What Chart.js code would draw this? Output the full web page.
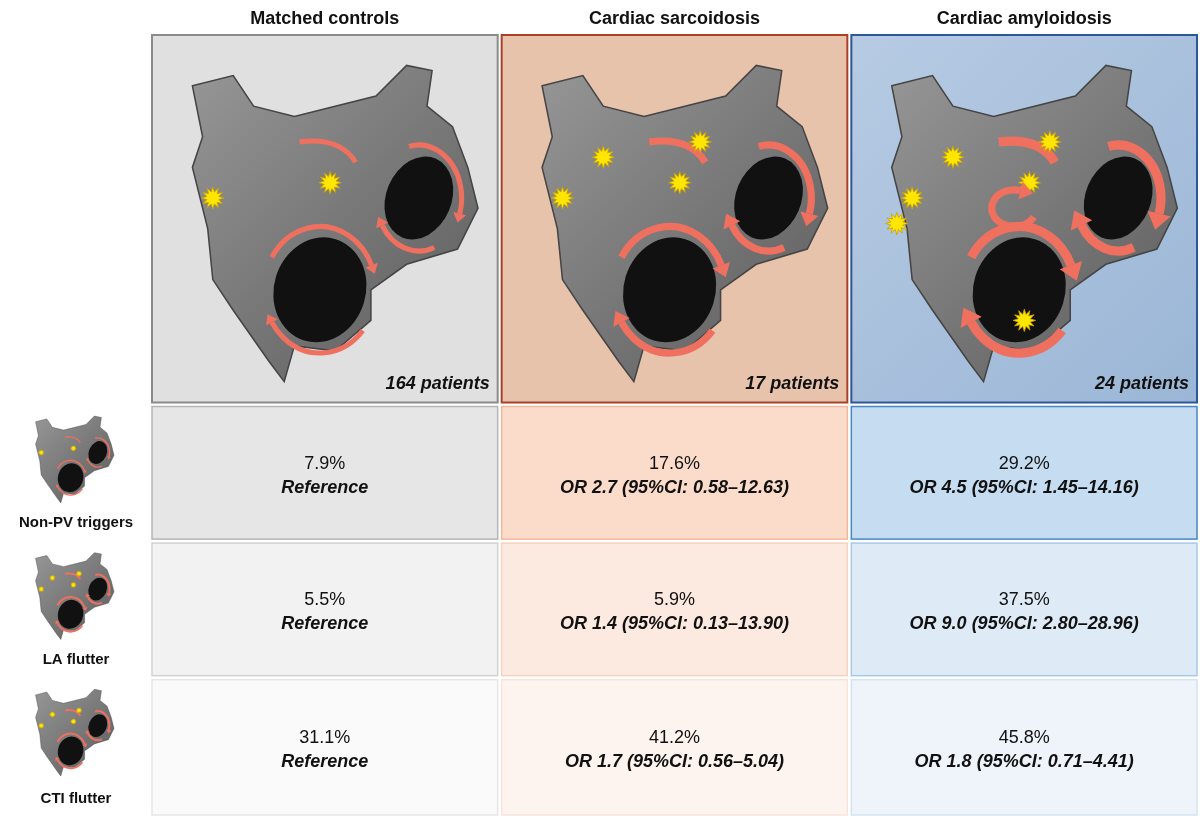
<!DOCTYPE html>
<html>
<head>
<meta charset="utf-8">
<script src="https://cdn.jsdelivr.net/npm/chart.js@4/dist/chart.umd.min.js"></script>
<style>
  body { margin: 0; background: #fff; }
  canvas { display: block; }
</style>
</head>
<body>
<canvas id="grid" width="1200" height="823"></canvas>
<script>
// Columnas y filas de la figura
const groups = ["Matched controls", "Cardiac sarcoidosis", "Cardiac amyloidosis"];
const rows = ["", "Non-PV triggers", "LA flutter", "CTI flutter"];
const rowHeights = [2.72, 1, 1, 1.02];
const patients = ["164 patients", "17 patients", "24 patients"];

const nonPv = ["7.9%", "17.6%", "29.2%"];
const laFlutter = ["5.5%", "5.9%", "37.5%"];
const ctiFlutter = ["31.1%", "41.2%", "45.8%"];
const nonPvOr = ["Reference", "OR 2.7 (95%CI: 0.58–12.63)", "OR 4.5 (95%CI: 1.45–14.16)"];
const laFlutterOr = ["Reference", "OR 1.4 (95%CI: 0.13–13.90)", "OR 9.0 (95%CI: 2.80–28.96)"];
const ctiFlutterOr = ["Reference", "OR 1.7 (95%CI: 0.56–5.04)", "OR 1.8 (95%CI: 0.71–4.41)"];

const fills = [
    ["#e0e0e0", "#e8c3ac", "#aac1dc"],
    ["#e6e6e6", "#fbdccb", "#c6dcf1"],
    ["#f2f2f2", "#fce9df", "#deebf7"],
    ["#fafafa", "#fdf4ef", "#eef4fa"]
];
const borders = [
    ["#8a8a8a", "#a8402a", "#2e5797"],
    ["#b5b5b5", "#f0b89d", "#4a86c4"],
    ["#d2d2d2", "#f6d2c0", "#a9c8e6"],
    ["#e6e6e6", "#f9e4da", "#d3e3f2"]
];

const pct = [null, nonPv, laFlutter, ctiFlutter];
const ors = [null, nonPvOr, laFlutterOr, ctiFlutterOr];

function star(ctx, x, y, r) {
    ctx.beginPath();
    for (let i = 0; i < 24; i++) {
        const a = i * Math.PI / 12;
        const rr = i % 2 ? r * 0.55 : r;
        ctx.lineTo(x + rr * Math.cos(a), y + rr * Math.sin(a));
    }
    ctx.closePath();
    ctx.fillStyle = "#ffe600";
    ctx.fill();
    ctx.strokeStyle = "#c9a000";
    ctx.lineWidth = 0.8;
    ctx.stroke();
}

function arcArrow(ctx, x, y, rx, ry, a0, a1, w) {
    ctx.save();
    ctx.strokeStyle = "#f07060";
    ctx.fillStyle = "#f07060";
    ctx.lineWidth = w;
    ctx.beginPath();
    ctx.ellipse(x, y, rx, ry, 0, a0, a1);
    ctx.stroke();
    const ex = x + rx * Math.cos(a1), ey = y + ry * Math.sin(a1);
    const tx = -rx * Math.sin(a1), ty = ry * Math.cos(a1);
    const len = Math.hypot(tx, ty);
    const ux = tx / len, uy = ty / len;
    ctx.beginPath();
    ctx.moveTo(ex + ux * w * 1.8, ey + uy * w * 1.8);
    ctx.lineTo(ex - uy * w * 1.3, ey + ux * w * 1.3);
    ctx.lineTo(ex + uy * w * 1.3, ey - ux * w * 1.3);
    ctx.closePath();
    ctx.fill();
    ctx.restore();
}

// Dibuja una aurícula esquemática (gris, venas negras, flechas y focos)
function drawAtrium(ctx, ox, oy, s, level) {
    ctx.save();
    ctx.translate(ox, oy);
    ctx.scale(s, s);
    const g = ctx.createLinearGradient(0, 0, 300, 300);
    g.addColorStop(0, "#9a9a9a");
    g.addColorStop(1, "#5e5e5e");
    ctx.fillStyle = g;
    ctx.strokeStyle = "#444";
    ctx.lineWidth = 1.5;
    ctx.beginPath();
    ctx.moveTo(20, 40); ctx.lineTo(60, 30); ctx.lineTo(80, 60); ctx.lineTo(120, 70);
    ctx.lineTo(200, 50); ctx.lineTo(230, 20); ctx.lineTo(255, 25); ctx.lineTo(250, 60);
    ctx.lineTo(275, 80); ctx.lineTo(290, 120); ctx.lineTo(300, 160); ctx.lineTo(280, 200);
    ctx.lineTo(230, 215); ctx.lineTo(195, 240); ctx.lineTo(195, 270); ctx.lineTo(160, 300);
    ctx.lineTo(120, 295); ctx.lineTo(110, 330); ctx.lineTo(95, 310); ctx.lineTo(60, 260);
    ctx.lineTo(40, 230); ctx.lineTo(35, 180); ctx.lineTo(20, 120); ctx.lineTo(30, 90);
    ctx.closePath();
    ctx.fill();
    ctx.stroke();
    ctx.fillStyle = "#111";
    ctx.beginPath(); ctx.ellipse(145, 240, 45, 52, 0.3, 0, Math.PI * 2); ctx.fill();
    ctx.beginPath(); ctx.ellipse(242, 150, 32, 42, 0.4, 0, Math.PI * 2); ctx.fill();
    const w = 5 + level * 2;
    arcArrow(ctx, 145, 240, 55, 62, -2.6, -0.4, w);
    arcArrow(ctx, 145, 240, 55, 62, 0.7, 2.6, w);
    arcArrow(ctx, 242, 150, 42, 52, -1.8, 0.3, w);
    arcArrow(ctx, 242, 150, 42, 52, 1.2, 2.6, w);
    ctx.save();
    ctx.strokeStyle = "#f07060"; ctx.lineWidth = w;
    ctx.beginPath(); ctx.moveTo(125, 95); ctx.quadraticCurveTo(165, 90, 180, 115); ctx.stroke();
    ctx.restore();
    const spots = [[40, 150], [155, 135], [175, 95], [80, 110], [150, 270], [25, 175], [100, 80], [200, 120]];
    for (let i = 0; i < 2 + level * 2 && i < spots.length; i++) star(ctx, spots[i][0], spots[i][1], 11);
    if (level === 2) arcArrow(ctx, 140, 160, 22, 18, 0.5, 5, 7);
    ctx.restore();
}

const cellsPlugin = {
    id: "cells",
    afterDatasetsDraw(chart) {
        const ctx = chart.ctx;
        ctx.save();
        chart.data.datasets.forEach((ds, r) => {
            chart.getDatasetMeta(r).data.forEach((bar, c) => {
                const left = bar.x - bar.width / 2 + 2, right = bar.x + bar.width / 2 - 2;
                const top = Math.min(bar.y, bar.base) + 2, bottom = Math.max(bar.y, bar.base) - 2;
                if (r === 0 && c === 2) {
                    const g = ctx.createLinearGradient(left, top, right, bottom);
                    g.addColorStop(0, "#b7cbe3"); g.addColorStop(1, "#9bb6d6");
                    ctx.fillStyle = g;
                } else {
                    ctx.fillStyle = fills[r][c];
                }
                ctx.fillRect(left, top, right - left, bottom - top);
                ctx.strokeStyle = borders[r][c];
                ctx.lineWidth = r === 0 ? 2 : 1.5;
                ctx.strokeRect(left, top, right - left, bottom - top);
                ctx.fillStyle = "#111";
                ctx.textAlign = "center";
                if (r === 0) {
                    drawAtrium(ctx, left + 20, top + 10, 1.02, c);
                    ctx.font = "italic bold 18px 'Liberation Sans', Arial";
                    ctx.textAlign = "right";
                    ctx.fillText(patients[c], right - 8, bottom - 14);
                    ctx.textAlign = "center";
                    ctx.font = "bold 18px 'Liberation Sans', Arial";
                    ctx.fillText(groups[c], bar.x, 24);
                } else {
                    const my = (top + bottom) / 2;
                    ctx.font = "18px 'Liberation Sans', Arial";
                    ctx.fillText(pct[r][c], bar.x, my - 4);
                    ctx.font = "italic bold 18px 'Liberation Sans', Arial";
                    ctx.fillText(ors[r][c], bar.x, my + 20);
                    if (c === 0) {
                        ctx.font = "bold 15px 'Liberation Sans', Arial";
                        ctx.fillText(rows[r], 76, bottom - 12);
                        ctx.save();
                        ctx.translate(30, top + 4);
                        ctx.scale(0.28, 0.28);
                        drawAtrium(ctx, 0, 0, 1, r === 1 ? 0 : 1);
                        ctx.restore();
                    }
                }
            });
        });
        ctx.restore();
    }
};

new Chart(document.getElementById("grid"), {
    type: "bar",
    data: {
        labels: groups,
        datasets: rows.map((name, r) => ({
            label: name || "Map",
            data: groups.map(() => rowHeights[r]),
            backgroundColor: "rgba(0,0,0,0)",
            borderWidth: 0,
            barPercentage: 1,
            categoryPercentage: 1
        }))
    },
    options: {
        responsive: false,
        animation: false,
        layout: { padding: { left: 150, right: 1, top: 33, bottom: 6 } },
        plugins: { legend: { display: false }, tooltip: { enabled: false } },
        scales: {
            x: { display: false, stacked: true },
            y: { display: false, stacked: true, reverse: true, min: 0, max: rowHeights.reduce((a, b) => a + b, 0) }
        }
    },
    plugins: [cellsPlugin]
});
</script>
</body>
</html>
